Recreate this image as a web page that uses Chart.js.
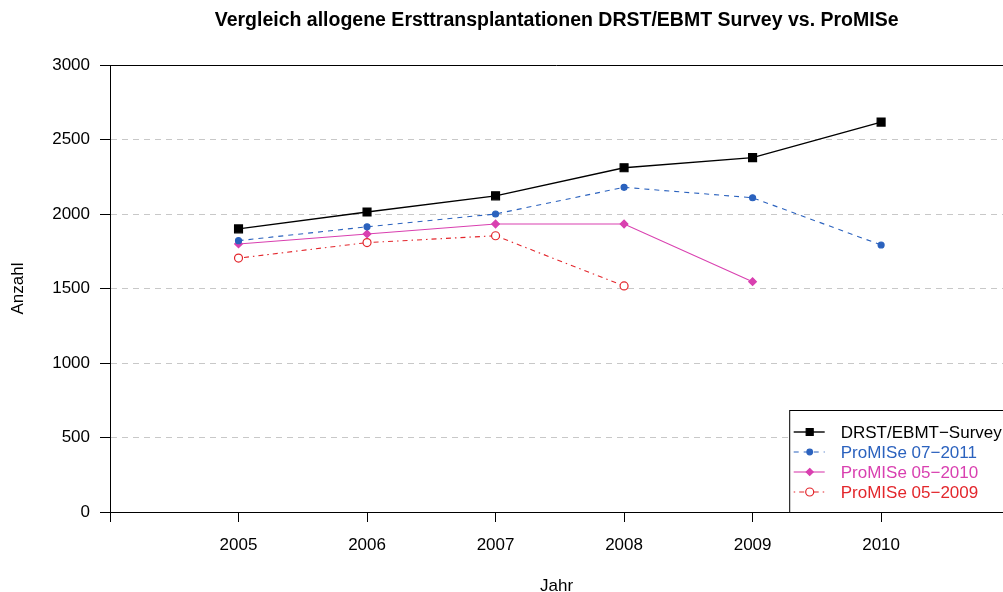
<!DOCTYPE html>
<html>
<head>
<meta charset="utf-8">
<script src="https://cdn.jsdelivr.net/npm/chart.js@4.4.0/dist/chart.umd.min.js"></script>
<style>
  html, body { margin: 0; padding: 0; background: #fff; overflow: hidden; }
  #wrap { width: 1003px; height: 592px; overflow: hidden; }
</style>
</head>
<body>
<div id="wrap"><canvas id="chart" width="1010" height="592"></canvas></div>
<script>
// data
const years = [2005, 2006, 2007, 2008, 2009, 2010];
const drst = [1900, 2013, 2122, 2310, 2378, 2617];
const promise0711 = [1821, 1914, 2000, 2179, 2109, 1792];
const promise0510 = [1799, 1866, 1933, 1933, 1546, null];
const promise0509 = [1704, 1808, 1854, 1517, null, null];
const xTicks = [2004, 2005, 2006, 2007, 2008, 2009, 2010];
const yTicks = [0, 500, 1000, 1500, 2000, 2500, 3000];
const seriesNames = ['DRST/EBMT\u2212Survey', 'ProMISe 07\u22122011', 'ProMISe 05\u22122010', 'ProMISe 05\u22122009'];

const FONT = '"Liberation Sans", Arial, Helvetica, sans-serif';
const blue = '#2B62BE', magenta = '#D940B0', red = '#E3262C';

function pts(vals) {
    return years.map(function (y, i) { return { x: y, y: vals[i] }; }).filter(function (p) { return p.y !== null; });
}

const styles = [
    { color: '#000', dash: [], width: 1.4, point: 'rect', radius: 5.6, fill: '#000' },
    { color: blue, dash: [5, 5], width: 1.1, point: 'circle', radius: 3, fill: blue },
    { color: magenta, dash: [], width: 1.1, point: 'rectRot', radius: 3.8, fill: magenta },
    { color: red, dash: [1.5, 4, 5, 4], width: 1.1, point: 'circle', radius: 4, fill: '#fff' }
];
const seriesValues = [drst, promise0711, promise0510, promise0509];

const datasets = seriesValues.map(function (vals, i) {
    const s = styles[i];
    return {
        label: seriesNames[i],
        data: pts(vals),
        borderColor: s.color,
        borderWidth: s.width,
        borderDash: s.dash,
        pointStyle: s.point,
        pointRadius: s.radius,
        pointBackgroundColor: s.fill,
        pointBorderColor: s.color,
        pointBorderWidth: 1.2,
        tension: 0,
        fill: false
    };
});

// title, 3000 line and legend box
const extras = {
    id: 'extras',
    afterDraw: function (chart) {
        const ctx = chart.ctx;
        const area = chart.chartArea;
        const yScale = chart.scales.y;
        ctx.save();
        // top line at 3000
        const yTop = Math.round(yScale.getPixelForValue(3000)) + 0.5;
        ctx.strokeStyle = '#000';
        ctx.lineWidth = 1;
        ctx.setLineDash([]);
        ctx.beginPath();
        ctx.moveTo(area.left, yTop);
        ctx.lineTo(area.right, yTop);
        ctx.stroke();

        // main title
        ctx.fillStyle = '#000';
        ctx.font = 'bold 19.5px ' + FONT;
        ctx.textAlign = 'center';
        ctx.textBaseline = 'middle';
        ctx.fillText('Vergleich allogene Ersttransplantationen DRST/EBMT Survey vs. ProMISe', (area.left + area.right) / 2, 21);

        // legend
        const bx = area.right - 213.5, by = 410.5, bw = 240, bh = area.bottom - 410;
        ctx.fillStyle = '#fff';
        ctx.fillRect(bx, by, bw, bh);
        ctx.strokeStyle = '#000';
        ctx.strokeRect(bx, by, bw, bh);
        ctx.font = '17px ' + FONT;
        ctx.textAlign = 'left';
        for (let i = 0; i < seriesNames.length; i++) {
            const s = styles[i];
            const ry = 432 + i * 20;
            ctx.strokeStyle = s.color;
            ctx.lineWidth = s.width;
            ctx.setLineDash(s.dash);
            ctx.beginPath();
            ctx.moveTo(bx + 4, ry);
            ctx.lineTo(bx + 35, ry);
            ctx.stroke();
            ctx.setLineDash([]);
            ctx.fillStyle = s.fill;
            ctx.lineWidth = 1.2;
            const mx = bx + 20;
            ctx.beginPath();
            if (s.point === 'rect') {
                ctx.rect(mx - 3.5, ry - 3.5, 7, 7);
            } else if (s.point === 'rectRot') {
                ctx.moveTo(mx, ry - 3.5); ctx.lineTo(mx + 3.5, ry);
                ctx.lineTo(mx, ry + 3.5); ctx.lineTo(mx - 3.5, ry); ctx.closePath();
            } else {
                ctx.arc(mx, ry, i === 3 ? 4 : 2.8, 0, Math.PI * 2);
            }
            ctx.fill();
            ctx.stroke();
            ctx.fillStyle = s.color;
            ctx.fillText(seriesNames[i], bx + 51, ry + 1);
        }
        ctx.restore();
    }
};

new Chart(document.getElementById('chart'), {
    type: 'line',
    data: { datasets: datasets },
    options: {
        responsive: false,
        animation: false,
        devicePixelRatio: 1,
        layout: { padding: { top: 65, right: 0, left: 0, bottom: 0 } },
        plugins: { legend: { display: false }, title: { display: false }, tooltip: { enabled: false } },
        scales: {
            x: {
                type: 'linear',
                min: 2004,
                max: 2010.95,
                afterBuildTicks: function (scale) { scale.ticks = xTicks.map(function (v) { return { value: v }; }); },
                afterFit: function (scale) { scale.height = 80; },
                ticks: {
                    color: '#000',
                    font: { family: FONT, size: 17 },
                    padding: 13,
                    maxRotation: 0,
                    autoSkip: false,
                    callback: function (v) { return v === 2004 ? '' : String(v); }
                },
                grid: { drawOnChartArea: false, drawTicks: true, tickLength: 10, tickColor: '#000', tickWidth: 1 },
                border: { color: '#000', width: 1 },
                title: { display: true, text: 'Jahr', color: '#000', font: { family: FONT, size: 17, lineHeight: 0.7 }, padding: { top: 0, bottom: 0 } }
            },
            y: {
                min: 0,
                max: 3000,
                afterBuildTicks: function (scale) { scale.ticks = yTicks.map(function (v) { return { value: v }; }); },
                afterFit: function (scale) { scale.width = 110; },
                ticks: {
                    color: '#000',
                    font: { family: FONT, size: 17 },
                    padding: 10,
                    callback: function (v) { return String(v); }
                },
                grid: {
                    color: function (c) { return (c.tick && (c.tick.value === 0 || c.tick.value === 3000)) ? 'rgba(0,0,0,0)' : '#C8C8C8'; },
                    lineWidth: 1,
                    tickLength: 10,
                    tickColor: '#000',
                    tickWidth: 1
                },
                border: { color: '#000', width: 1, dash: [6, 5] },
                title: { display: true, text: 'Anzahl', color: '#000', font: { family: FONT, size: 17, lineHeight: 1 }, padding: { top: 10, bottom: 0 } }
            }
        }
    },
    plugins: [extras]
});
</script>
</body>
</html>
